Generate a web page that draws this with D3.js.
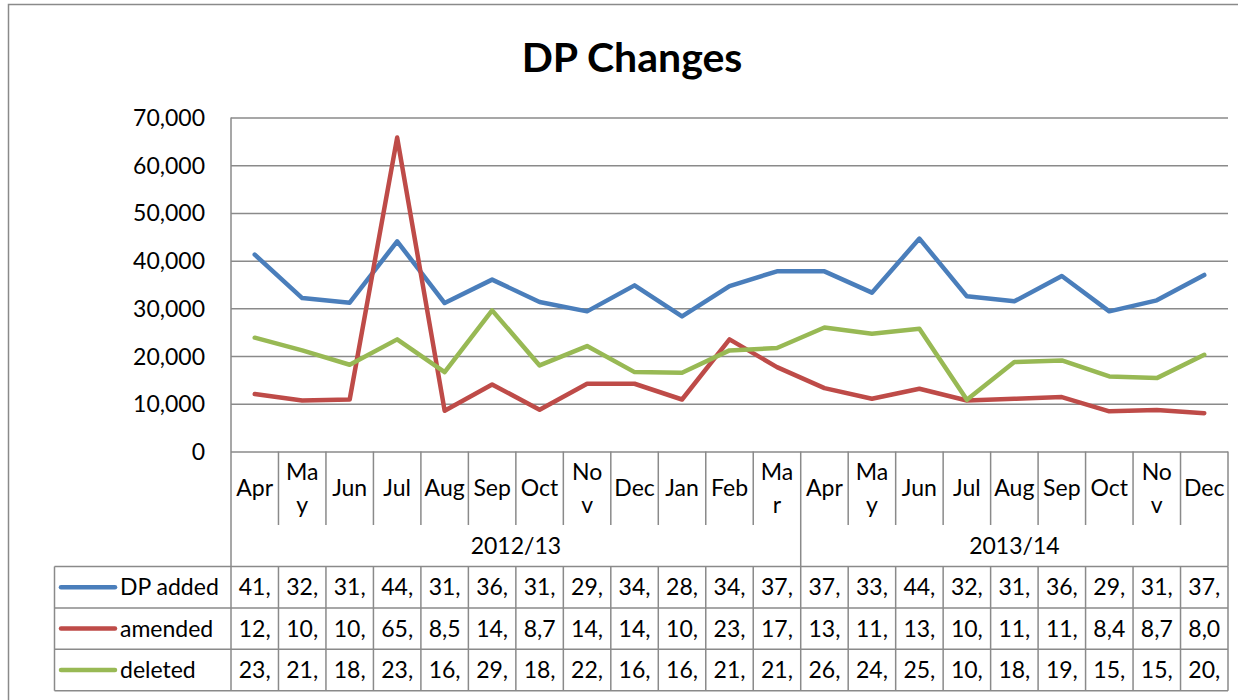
<!DOCTYPE html>
<html>
<head>
<meta charset="utf-8">
<script src="https://cdn.jsdelivr.net/npm/d3@7"></script>
<style>
  body { margin: 0; background: #fff; }
  text { font-family: Lato, 'Open Sans', sans-serif; fill: #000; }
</style>
</head>
<body>
<script>
// months of the two financial years, as printed on the axis (Excel wraps the wide ones)
var months = ['Apr', 'May', 'Jun', 'Jul', 'Aug', 'Sep', 'Oct', 'Nov', 'Dec', 'Jan', 'Feb', 'Mar',
              'Apr', 'May', 'Jun', 'Jul', 'Aug', 'Sep', 'Oct', 'Nov', 'Dec'];
var monthTicks = ['Apr', 'Ma|y', 'Jun', 'Jul', 'Aug', 'Sep', 'Oct', 'No|v', 'Dec', 'Jan', 'Feb', 'Ma|r',
                  'Apr', 'Ma|y', 'Jun', 'Jul', 'Aug', 'Sep', 'Oct', 'No|v', 'Dec'];
var years = ['2012/13', '2013/14'];
var yearCounts = [12, 9];

var seriesNames = ['DP added', 'amended', 'deleted'];
var seriesColors = ['#4a7ebb', '#be4b48', '#98b954'];

var dpAdded = [41260, 32160, 31190, 44050, 31110, 36020, 31320, 29370, 34820, 28320, 34680, 37760,
               37760, 33290, 44620, 32520, 31470, 36780, 29370, 31680, 37000];
var amended = [12050, 10700, 10900, 65800, 8550, 14050, 8750, 14200, 14200, 10900, 23500, 17690,
               13280, 11050, 13150, 10700, 11050, 11400, 8420, 8700, 8040];
var deleted = [23850, 21190, 18180, 23500, 16640, 29580, 18040, 22100, 16640, 16500, 21190, 21680,
               26000, 24690, 25740, 10840, 18740, 19090, 15730, 15380, 20280];

var yTicks = [0, 10000, 20000, 30000, 40000, 50000, 60000, 70000];

var series = [dpAdded, amended, deleted];
var grid = '#8a8a8a';

var svg = d3.select('body').append('svg')
    .attr('width', 1238)
    .attr('height', 700);

// chart border (cut off on the right and bottom)
svg.append('path')
    .attr('d', 'M8.5,700 V4.5 H1238')
    .attr('fill', 'none')
    .attr('stroke', grid)
    .attr('stroke-width', 1.5);

svg.append('text')
    .attr('x', 632)
    .attr('y', 72)
    .attr('text-anchor', 'middle')
    .style('font-size', '41px')
    .style('font-weight', 'bold')
    .text('DP Changes');

var plotLeft = 231, plotRight = 1228;
var plotTop = 117.5, plotBase = 451.5;
var catBottom = 525, tableTop = 566.5, rowH = 41.4;

var x = d3.scaleBand().domain(d3.range(months.length)).range([plotLeft, plotRight]);
var y = d3.scaleLinear().domain([0, 70000]).range([plotBase, plotTop]);

function edge(i) { return i < months.length ? x(i) : plotRight; }

// gridlines + value labels
var yAxis = svg.append('g')
    .attr('transform', 'translate(' + plotLeft + ',0)')
    .call(d3.axisLeft(y).tickValues(yTicks).tickSize(-(plotRight - plotLeft)).tickPadding(26)
        .tickFormat(d3.format(',')));
yAxis.select('.domain').remove();
yAxis.selectAll('line').attr('stroke', grid).attr('stroke-width', 1.5);
yAxis.selectAll('text')
    .attr('dy', '0.35em')
    .attr('fill', '#000')
    .style('font-size', '23px')
    .style('font-family', 'Lato, sans-serif');

// left axis line runs down through the table
svg.append('line')
    .attr('x1', plotLeft).attr('x2', plotLeft)
    .attr('y1', plotTop).attr('y2', tableTop + 3 * rowH)
    .attr('stroke', grid).attr('stroke-width', 1.5);

// category dividers
var groupEdges = [0];
yearCounts.forEach(function (c, i) { groupEdges.push(groupEdges[i] + c); });

svg.selectAll('.catTick')
    .data(d3.range(1, months.length + 1))
    .enter().append('line')
    .attr('x1', function (i) { return edge(i); })
    .attr('x2', function (i) { return edge(i); })
    .attr('y1', plotBase)
    .attr('y2', function (i) { return groupEdges.indexOf(i) >= 0 ? tableTop : catBottom; })
    .attr('stroke', grid).attr('stroke-width', 1.5);

// month labels
var monthLabels = svg.selectAll('.month')
    .data(monthTicks)
    .enter().append('text')
    .attr('text-anchor', 'middle')
    .style('font-size', '23px');
monthLabels.each(function (d, i) {
    var parts = d.split('|');
    var cx = x(i) + x.bandwidth() / 2;
    var cy = (plotBase + catBottom) / 2;
    parts.forEach(function (p, k) {
        d3.select(this).append('tspan')
            .attr('x', cx)
            .attr('y', cy + (k - (parts.length - 1) / 2) * 33)
            .attr('dy', '0.35em')
            .text(p);
    }, this);
});

// year labels
svg.selectAll('.year')
    .data(years)
    .enter().append('text')
    .attr('text-anchor', 'middle')
    .attr('x', function (d, i) { return (edge(groupEdges[i]) + edge(groupEdges[i + 1])) / 2; })
    .attr('y', (catBottom + tableTop) / 2)
    .attr('dy', '0.35em')
    .style('font-size', '23px')
    .text(function (d) { return d; });

// series lines
var line = d3.line()
    .x(function (d, i) { return x(i) + x.bandwidth() / 2; })
    .y(function (d) { return y(d); });

svg.selectAll('.series')
    .data(series)
    .enter().append('path')
    .attr('d', line)
    .attr('fill', 'none')
    .attr('stroke', function (d, i) { return seriesColors[i]; })
    .attr('stroke-width', 4.5)
    .attr('stroke-linejoin', 'round')
    .attr('stroke-linecap', 'round');

// data table
var tableLeft = 54.5;
d3.range(4).forEach(function (r) {
    svg.append('line')
        .attr('x1', tableLeft).attr('x2', plotRight)
        .attr('y1', tableTop + r * rowH).attr('y2', tableTop + r * rowH)
        .attr('stroke', grid).attr('stroke-width', 1.5);
});
svg.append('line')
    .attr('x1', tableLeft).attr('x2', tableLeft)
    .attr('y1', tableTop).attr('y2', tableTop + 3 * rowH)
    .attr('stroke', grid).attr('stroke-width', 1.5);
svg.selectAll('.tableCol')
    .data(d3.range(1, months.length + 1))
    .enter().append('line')
    .attr('x1', function (i) { return edge(i); })
    .attr('x2', function (i) { return edge(i); })
    .attr('y1', tableTop).attr('y2', tableTop + 3 * rowH)
    .attr('stroke', grid).attr('stroke-width', 1.5);

var fmt = d3.format(',');
series.forEach(function (vals, r) {
    var cy = tableTop + r * rowH + rowH / 2;
    svg.append('line')
        .attr('x1', 61).attr('x2', 115)
        .attr('y1', cy).attr('y2', cy)
        .attr('stroke', seriesColors[r])
        .attr('stroke-width', 4.5)
        .attr('stroke-linecap', 'round');
    svg.append('text')
        .attr('x', 120).attr('y', cy).attr('dy', '0.35em')
        .style('font-size', '23px')
        .text(seriesNames[r]);
    vals.forEach(function (v, i) {
        var t = svg.append('text')
            .attr('x', x(i) + x.bandwidth() / 2)
            .attr('y', cy).attr('dy', '0.35em')
            .attr('text-anchor', 'middle')
            .style('font-size', '23px');
        // the cell is too narrow for the full number: keep what fits, as Excel does
        var s = fmt(v);
        t.text(s);
        while (s.length > 1 && t.node().getComputedTextLength() > x.bandwidth() - 8) {
            s = s.slice(0, -1);
            t.text(s);
        }
    });
});
</script>
</body>
</html>
